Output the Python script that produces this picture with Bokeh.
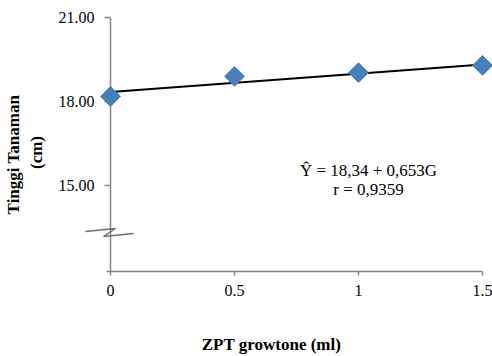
import math
from bokeh.plotting import figure
from bokeh.models import Range1d, FixedTicker
from bokeh.core.properties import value
from bokeh.embed import file_html
from bokeh.resources import INLINE

# ---- data ----
dose = [0.0, 0.5, 1.0, 1.5]                 # ZPT growtone (ml)
height = [18.18, 18.90, 19.03, 19.29]       # Tinggi tanaman (cm)
intercept = 18.34
slope = 0.653
x_ticks = [0, 0.5, 1, 1.5]
x_tick_labels = ["0", "0.5", "1", "1.5"]
y_ticks = [21, 18, 15]
y_tick_labels = ["21.00", "18.00", "15.00"]
eq_lines = ["\u0176 = 18,34 + 0,653G", "r = 0,9359"]
y_axis_min = 11.93   # bottom of the (broken) y axis
x_axis_min = -0.016

# ---- layout helpers (page pixels -> data units) ----
PX_PER_X = 248.0
PX_PER_Y = 28.0
X0_PX, Y21_PX = 110.0, 17.0
ORIGIN = 0  # page offset of the figure
def dx(px):
    return px / PX_PER_X
def dy(px):
    return px / PX_PER_Y
def X(px):
    return (px - X0_PX) / PX_PER_X
def Y(py):
    return 21 - (py - Y21_PX) / PX_PER_Y

W, H = 492, 356
BL, BR, BT, BB = 50, 0, 0, 52
x_range = Range1d(X(ORIGIN + BL), X(ORIGIN + W - BR))
y_range = Range1d(Y(ORIGIN + H - BB), Y(ORIGIN + BT))

p = figure(width=W, height=H, x_range=x_range, y_range=y_range,
           output_backend="svg", toolbar_location=None,
           min_border_left=BL, min_border_right=BR,
           min_border_top=BT, min_border_bottom=BB)
p.xgrid.visible = False
p.ygrid.visible = False
p.outline_line_color = None
p.background_fill_color = "white"
p.border_fill_color = "white"

SERIF = "Liberation Serif"
for ax in (p.xaxis[0], p.yaxis[0]):
    ax.ticker = FixedTicker(ticks=[])
    ax.axis_line_color = None
    ax.major_tick_line_color = None
    ax.minor_tick_line_color = None
    ax.major_tick_out = 0
    ax.major_tick_in = 0
    ax.major_label_text_font_size = "0px"
    ax.axis_label_text_font = SERIF
    ax.axis_label_text_font_style = "bold"
    ax.axis_label_text_font_size = "17px"
    ax.axis_label_text_color = "black"
p.xaxis.axis_label = "ZPT growtone (ml)"
p.xaxis.axis_label_standoff = 30
p.yaxis.axis_label = "Tinggi  Tanaman\n(cm)"
p.yaxis.axis_label_standoff = 5

AX = "#868686"
# y axis line + ticks
p.segment(x0=[0], y0=[y_axis_min], x1=[0], y1=[max(y_ticks)], line_color=AX, line_width=1.5)
p.segment(x0=[-dx(6)] * len(y_ticks), y0=y_ticks, x1=[0] * len(y_ticks), y1=y_ticks,
          line_color=AX, line_width=1.5)
# x axis line + ticks
p.segment(x0=[x_axis_min], y0=[y_axis_min], x1=[max(x_ticks)], y1=[y_axis_min],
          line_color=AX, line_width=1.5)
p.segment(x0=x_ticks, y0=[y_axis_min] * len(x_ticks), x1=x_ticks,
          y1=[y_axis_min - dy(4)] * len(x_ticks), line_color=AX, line_width=1.5)
# axis break zigzag
bx = [X(85), X(115), X(103), X(133)]
by = [Y(231), Y(228), Y(236), Y(233)]
p.line(bx, by, line_color="#6E6E6E", line_width=1.5)

# tick labels
p.text(x=[X(94)] * len(y_ticks), y=y_ticks, text=y_tick_labels,
       text_font=value(SERIF), text_font_size="16px", text_align="right",
       text_baseline="middle", text_color="black")
p.text(x=x_ticks, y=[Y(290)] * len(x_ticks), text=x_tick_labels,
       text_font=value(SERIF), text_font_size="16px", text_align="center",
       text_baseline="middle", text_color="black")

# regression line
lx = [min(dose), max(dose)]
ly = [intercept + slope * v for v in lx]
p.line(lx, ly, line_color="black", line_width=2)

# data points (diamonds)
p.scatter(dose, height, marker="square", size=14, angle=math.pi / 4,
          fill_color="#4A7EBB", line_color="#4A7EBB")

# equation text
p.text(x=[X(368)] * 2, y=[Y(170), Y(189)], text=eq_lines,
       text_font=value(SERIF), text_font_size="17px", text_align="center",
       text_baseline="middle", text_color="black")

open("out.html", "w").write(file_html(p, INLINE))
